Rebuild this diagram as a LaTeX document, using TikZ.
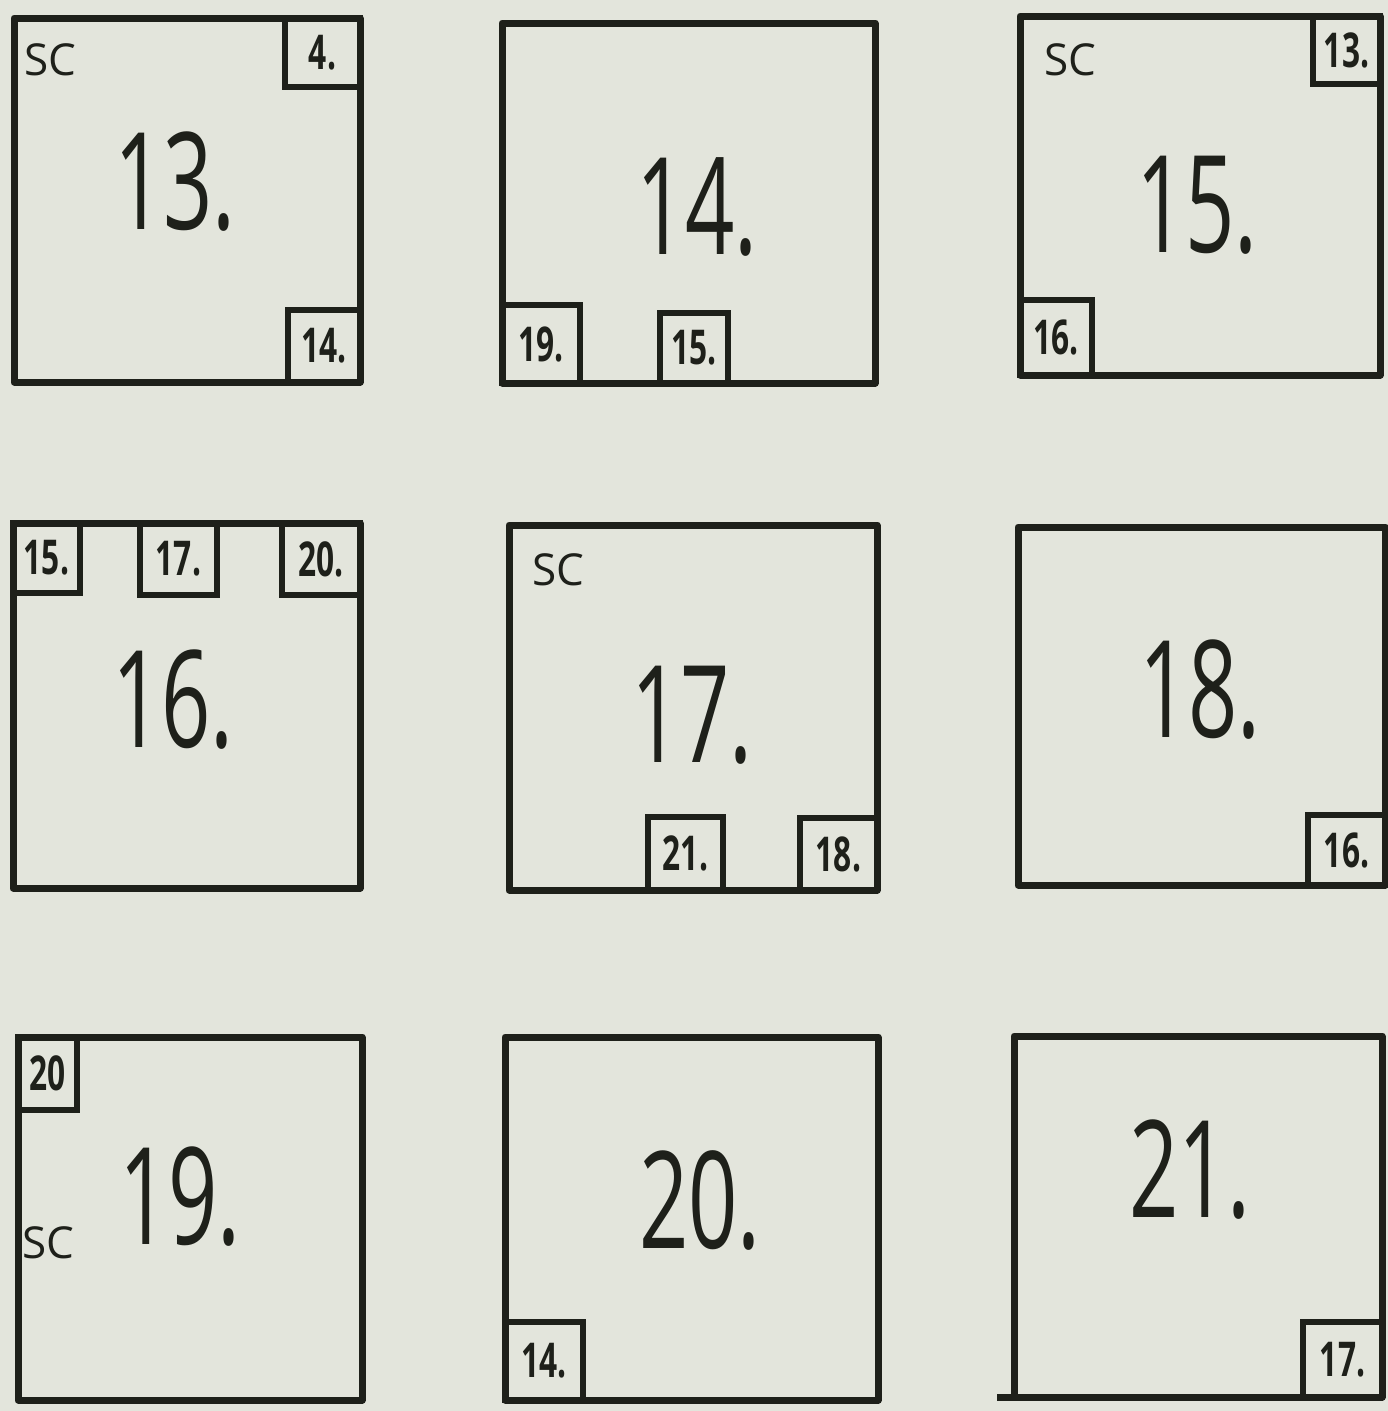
\documentclass[tikz,border=0pt]{standalone}
\usepackage{graphicx}
\usepackage{fontspec}
\setmainfont{Open Sans}
\definecolor{paper}{RGB}{227,229,220}
\definecolor{ink}{RGB}{30,32,26}
\newcommand\slimtag[1]{\scalebox{0.66}[1]{#1}}
\newcommand\slimbig[1]{\scalebox{0.64}[1]{#1}}
\tikzset{
  room/.style={draw=ink, line width=7pt, inner sep=0pt, outer sep=0pt, line join=round},
  tag/.style={draw=ink, line width=6pt, inner sep=0pt, outer sep=0pt, text=ink,
    font=\fontsize{48}{48}\selectfont\bfseries},
  bignum/.style={text=ink, inner sep=0pt, font=\fontsize{135}{135}\selectfont},
  sclabel/.style={text=ink, inner sep=0pt, font=\fontsize{44}{44}\selectfont},
}
\begin{document}
\begin{tikzpicture}[x=1pt, y=-1pt]
\fill[paper] (0,0) rectangle (1388,1411);
\useasboundingbox (0,0) rectangle (1388,1411);

% ---- room 13
\node[room, minimum width=346pt, minimum height=364pt, anchor=north west] (b13) at (14,18) {};
\node[tag, minimum width=75pt, minimum height=69pt, anchor=north east] (b13a) at (b13.north east) {\slimtag{4.}};
\node[tag, minimum width=72pt, minimum height=72pt, anchor=south east] (b13b) at (b13.south east) {\slimtag{14.}};
\node[sclabel] (b13sc) at (50,60) {SC};
\node[bignum] (b13n) at (175,182) {\slimbig{13.}};

% ---- room 14
\node[room, minimum width=373pt, minimum height=360pt, anchor=north west] (b14) at (502,23) {};
\node[tag, minimum width=78pt, minimum height=78pt, anchor=south west] (b14a) at (b14.south west) {\slimtag{19.}};
\node[tag, minimum width=68pt, minimum height=70pt, anchor=south west] (b14b) at (660,383) {\slimtag{15.}};
\node[bignum] (b14n) at (697,207) {\slimbig{14.}};

% ---- room 15
\node[room, minimum width=360pt, minimum height=359pt, anchor=north west] (b15) at (1020,16) {};
\node[tag, minimum width=67pt, minimum height=68pt, anchor=north east] (b15a) at (b15.north east) {\slimtag{13.}};
\node[tag, minimum width=72pt, minimum height=75pt, anchor=south west] (b15b) at (b15.south west) {\slimtag{16.}};
\node[sclabel] (b15sc) at (1070,60) {SC};
\node[bignum] (b15n) at (1197,205) {\slimbig{15.}};

% ---- room 16
\node[room, minimum width=347pt, minimum height=365pt, anchor=north west] (b16) at (13,523) {};
\node[tag, minimum width=67pt, minimum height=70pt, anchor=north west] (b16a) at (b16.north west) {\slimtag{15.}};
\node[tag, minimum width=77pt, minimum height=72pt, anchor=north west] (b16b) at (140,523) {\slimtag{17.}};
\node[tag, minimum width=78pt, minimum height=72pt, anchor=north east] (b16c) at (b16.north east) {\slimtag{20.}};
\node[bignum] (b16n) at (173,700) {\slimbig{16.}};

% ---- room 17
\node[room, minimum width=368pt, minimum height=365pt, anchor=north west] (b17) at (509,525) {};
\node[tag, minimum width=75pt, minimum height=73pt, anchor=south west] (b17a) at (648,890) {\slimtag{21.}};
\node[tag, minimum width=77pt, minimum height=72pt, anchor=south east] (b17b) at (b17.south east) {\slimtag{18.}};
\node[sclabel] (b17sc) at (558,570) {SC};
\node[bignum] (b17n) at (692,715) {\slimbig{17.}};

% ---- room 18
\node[room, minimum width=367pt, minimum height=358pt, anchor=north west] (b18) at (1018,527) {};
\node[tag, minimum width=77pt, minimum height=70pt, anchor=south east] (b18a) at (b18.south east) {\slimtag{16.}};
\node[bignum] (b18n) at (1200,690) {\slimbig{18.}};

% ---- room 19
\node[room, minimum width=344pt, minimum height=363pt, anchor=north west] (b19) at (18,1037) {};
\node[tag, minimum width=59pt, minimum height=73pt, anchor=north west] (b19a) at (b19.north west) {\slimtag{20}};
\node[sclabel] (b19sc) at (48,1243) {SC};
\node[bignum] (b19n) at (180,1197) {\slimbig{19.}};

% ---- room 20
\node[room, minimum width=373pt, minimum height=363pt, anchor=north west] (b20) at (505,1037) {};
\node[tag, minimum width=78pt, minimum height=78pt, anchor=south west] (b20a) at (b20.south west) {\slimtag{14.}};
\node[bignum] (b20n) at (700,1200) {\slimbig{20.}};

% ---- room 21
\node[room, minimum width=368pt, minimum height=361pt, anchor=north west] (b21) at (1014,1036) {};
\node[tag, minimum width=79pt, minimum height=75pt, anchor=south east] (b21a) at (b21.south east) {\slimtag{17.}};
\node[bignum] (b21n) at (1190,1170) {\slimbig{21.}};
\coordinate (b21tail) at (997,1397);
\draw[ink, line width=7pt] (b21.south west) -- (b21tail);
\end{tikzpicture}
\end{document}
